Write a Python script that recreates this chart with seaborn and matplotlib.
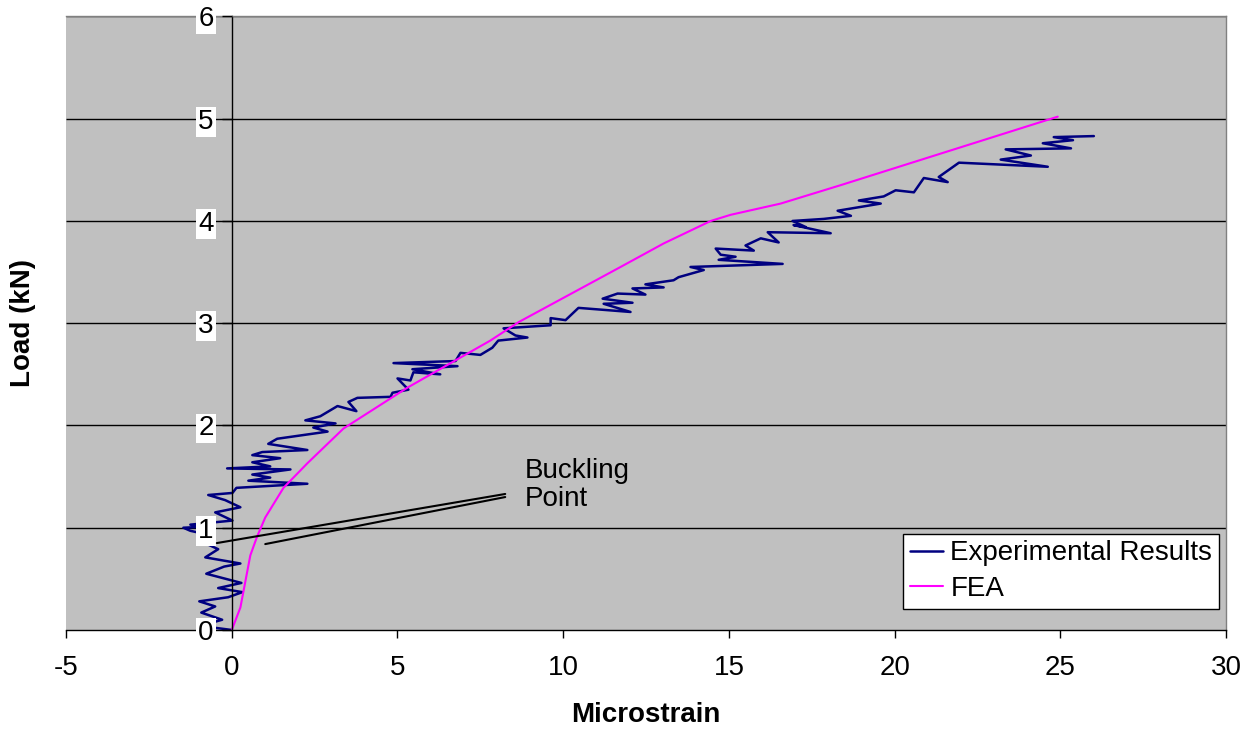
import matplotlib
matplotlib.use("Agg")
import matplotlib.pyplot as plt
import seaborn as sns
import pandas as pd

# ---------------- data ----------------
exp_strain = [0.00, -0.95, -0.29, -0.92, -0.50, -0.98, -0.11, 0.32, -0.41, 0.29,
              -0.77, -0.23, 0.26, -0.80, -0.41, -0.95, -0.56, -1.25, -1.46, -0.80,
              -1.25, 0.02, -0.50, 0.26, -0.20, -0.71, 0.02, 0.14, 2.28, 0.50,
              1.16, 0.62, 1.77, -0.14, 1.16, 0.62, 1.46, 0.62, 0.92, 2.28,
              1.10, 1.37, 2.89, 2.46, 3.13, 2.22, 2.67, 3.19, 3.76, 3.52,
              3.79, 4.79, 4.85, 5.33, 5.00, 5.39, 5.48, 6.29, 5.45, 6.81,
              4.88, 6.75, 6.90, 7.50, 7.86, 8.04, 8.92, 8.56, 8.20, 9.62,
              9.62, 10.07, 10.46, 12.03, 11.22, 12.09, 11.19, 11.64, 12.48, 12.09,
              13.03, 12.48, 13.33, 13.48, 14.24, 13.84, 16.62, 14.69, 15.20, 14.75,
              14.60, 15.75, 15.50, 15.96, 16.50, 16.17, 18.07, 16.95, 17.32, 16.92,
              17.86, 18.68, 18.28, 19.58, 18.92, 19.67, 20.03, 20.58, 20.88, 21.60,
              21.33, 21.94, 24.62, 23.20, 24.11, 23.35, 25.32, 24.47, 25.38, 24.80,
              26.01]
exp_load = [0.00, 0.04, 0.10, 0.17, 0.23, 0.28, 0.32, 0.37, 0.41, 0.46,
            0.55, 0.62, 0.65, 0.71, 0.79, 0.87, 0.92, 0.97, 1.00, 1.01,
            1.03, 1.07, 1.15, 1.20, 1.27, 1.32, 1.34, 1.39, 1.43, 1.46,
            1.49, 1.52, 1.57, 1.58, 1.60, 1.64, 1.68, 1.71, 1.74, 1.76,
            1.82, 1.87, 1.94, 1.98, 2.02, 2.05, 2.09, 2.19, 2.14, 2.23,
            2.27, 2.28, 2.32, 2.35, 2.46, 2.44, 2.52, 2.50, 2.55, 2.58,
            2.61, 2.63, 2.71, 2.69, 2.76, 2.83, 2.86, 2.88, 2.95, 2.98,
            3.05, 3.03, 3.15, 3.11, 3.19, 3.20, 3.24, 3.29, 3.28, 3.34,
            3.35, 3.38, 3.42, 3.45, 3.52, 3.55, 3.58, 3.62, 3.65, 3.67,
            3.73, 3.71, 3.76, 3.83, 3.79, 3.89, 3.88, 3.96, 3.94, 4.00,
            4.02, 4.05, 4.10, 4.17, 4.20, 4.24, 4.30, 4.28, 4.42, 4.38,
            4.43, 4.57, 4.53, 4.60, 4.64, 4.70, 4.71, 4.76, 4.79, 4.82,
            4.83]

fea_strain = [0.00, 0.26, 0.56, 0.76, 1.01, 1.56, 2.28, 3.37, 5.30, 7.80,
              8.65, 11.73, 13.03, 14.45, 15.05, 16.56, 18.37, 24.92]
fea_load = [0.00, 0.22, 0.73, 0.91, 1.10, 1.39, 1.63, 1.97, 2.37, 2.83,
            3.01, 3.55, 3.78, 4.00, 4.06, 4.17, 4.35, 5.02]

x_ticks = [-5, 0, 5, 10, 15, 20, 25, 30]
y_ticks = [0, 1, 2, 3, 4, 5, 6]

# buckling point annotation: text anchor and the two pointer ends
note_text_xy = (8.83, 1.68)
note_from = [(8.25, 1.33), (8.25, 1.30)]
note_to = [(-0.45, 0.85), (1.01, 0.84)]

# ---------------- style ----------------
sns.set_style("white")
plt.rcParams['font.family'] = ['Liberation Sans', 'DejaVu Sans']
plt.rcParams['font.size'] = 20
plt.rcParams['axes.unicode_minus'] = False
plt.rcParams['text.color'] = 'black'
plt.rcParams['axes.labelcolor'] = 'black'

fig = plt.figure(figsize=(12.51, 7.31), dpi=100)
ax = fig.add_axes([0.0528, 0.1382, 0.9273, 0.8393])
ax.set_facecolor('#C0C0C0')

df_exp = pd.DataFrame({'Microstrain': exp_strain, 'Load': exp_load})
df_fea = pd.DataFrame({'Microstrain': fea_strain, 'Load': fea_load})

sns.lineplot(data=df_exp, x='Microstrain', y='Load', sort=False, estimator=None,
             color='#000080', linewidth=1.8, label='Experimental Results', ax=ax,
             solid_joinstyle='round')
sns.lineplot(data=df_fea, x='Microstrain', y='Load', sort=False, estimator=None,
             color='#FF00FF', linewidth=1.5, label='FEA', ax=ax)

# horizontal grid under the curves
ax.hlines(y_ticks[1:], x_ticks[0], x_ticks[-1], color='black', linewidth=1.0, zorder=1)

# annotation
for (x0, y0), (x1, y1) in zip(note_from, note_to):
    ax.annotate('', xy=(x1, y1), xytext=(x0, y0),
                arrowprops=dict(arrowstyle='-', color='black', lw=1.5,
                                shrinkA=0, shrinkB=0))
ax.text(note_text_xy[0], note_text_xy[1], 'Buckling\nPoint', ha='left', va='top',
        fontsize=20, linespacing=1.1, color='black')

ax.set_xlim(x_ticks[0], x_ticks[-1])
ax.set_ylim(y_ticks[0], y_ticks[-1])
ax.set_xticks(x_ticks)
ax.set_yticks(y_ticks)

ax.set_axisbelow(False)
ax.spines['left'].set_position(('data', 0))
ax.spines['left'].set_color('black')
ax.spines['bottom'].set_color('black')
ax.spines['top'].set_color('#808080')
ax.spines['right'].set_color('#808080')
for s in ax.spines.values():
    s.set_linewidth(1.0)

ax.tick_params(axis='x', direction='out', length=6, width=1, pad=12,
               labelsize=20, colors='black', bottom=True)
ax.tick_params(axis='y', direction='out', length=7, width=1, pad=6,
               labelsize=20, colors='black', left=True)
for lab in ax.get_yticklabels():
    lab.set_bbox(dict(facecolor='white', edgecolor='none', pad=1.5))

ax.set_xlabel('Microstrain', fontsize=20, fontweight='bold', labelpad=15)
ax.set_ylabel('Load (kN)', fontsize=20, fontweight='bold')
ax.yaxis.set_label_coords(-0.026, 0.5)

leg = ax.legend(loc='lower right', bbox_to_anchor=(0.994, 0.034), borderaxespad=0,
                frameon=True, fancybox=False, handlelength=1.2, handletextpad=0.25,
                labelspacing=0.35, borderpad=0.25, fontsize=20)
leg.get_frame().set_edgecolor('black')
leg.get_frame().set_linewidth(1.0)
leg.get_frame().set_facecolor('white')
leg.get_frame().set_alpha(1.0)
for t in leg.get_texts():
    t.set_color('black')

fig.savefig('out.png', dpi=100)
